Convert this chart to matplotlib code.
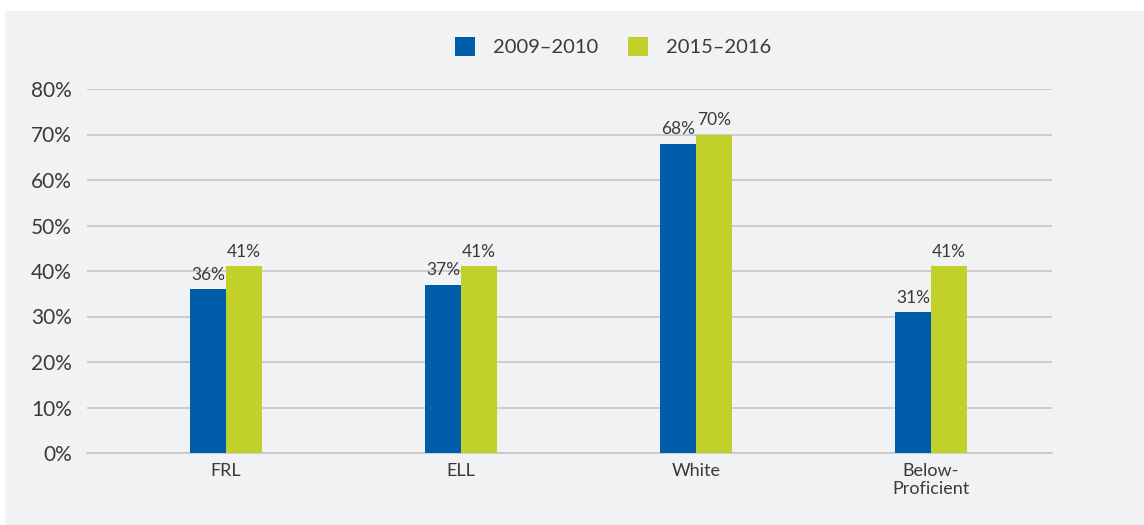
import numpy as np
import matplotlib.pyplot as plt
from matplotlib.patches import Rectangle

categories = ['FRL', 'ELL', 'White', 'Below-\nProficient']
vals_2009 = [36, 37, 68, 31]
vals_2015 = [41, 41, 70, 41]
series_names = ['2009\u20132010', '2015\u20132016']
yticks = [0, 10, 20, 30, 40, 50, 60, 70, 80]

blue = '#005DAA'
green = '#C2D02A'
txt = '#3A3A3A'
bg = '#F1F2F4'

plt.rcParams['font.family'] = ['Lato', 'DejaVu Sans']

fig = plt.figure(figsize=(11.44, 5.25), dpi=100, facecolor='white')
fig.patches.append(Rectangle((5 / 1144, 0), 1 - 5 / 1144, 1 - 11 / 525,
                             transform=fig.transFigure, facecolor=bg,
                             edgecolor='none', zorder=-10))
ax = fig.add_axes([87 / 1144, 1 - 453 / 525, (1052 - 87) / 1144, (453 - 89) / 525])
ax.set_facecolor(bg)

x = np.arange(len(categories))
w = 0.153
b1 = ax.bar(x - w / 2, vals_2009, w, color=blue, label=series_names[0], zorder=3)
b2 = ax.bar(x + w / 2, vals_2015, w, color=green, label=series_names[1], zorder=3)

for bars, vals in ((b1, vals_2009), (b2, vals_2015)):
    for r, v in zip(bars, vals):
        ax.text(r.get_x() + r.get_width() / 2, v + 1.4, f'{v}%', ha='center',
                va='bottom', fontsize=12.5, color=txt)

ax.set_ylim(0, 80)
ax.set_xlim(-0.591, 3.515)
ax.set_yticks(yticks)
ax.set_yticklabels([f'{t}%' for t in yticks])
ax.set_xticks(x)
ax.set_xticklabels(categories, linespacing=1.15)
ax.tick_params(axis='y', length=0, pad=11, labelsize=15, labelcolor=txt)
ax.tick_params(axis='x', length=0, pad=7, labelsize=13, labelcolor=txt)
ax.grid(axis='y', color='#C6C6C6', linewidth=1.2, zorder=0)
for s in ['top', 'right', 'left']:
    ax.spines[s].set_visible(False)
ax.spines['bottom'].set_color('#C6C6C6')
ax.spines['bottom'].set_linewidth(1.2)

ax.legend(loc='lower center', bbox_to_anchor=(0.545, 1.04), ncol=2, frameon=False,
          fontsize=14.5, handlelength=1.0, handleheight=1.1, columnspacing=1.45,
          handletextpad=0.9, labelcolor=txt)

fig.savefig('out.png', dpi=100, facecolor=fig.get_facecolor())
